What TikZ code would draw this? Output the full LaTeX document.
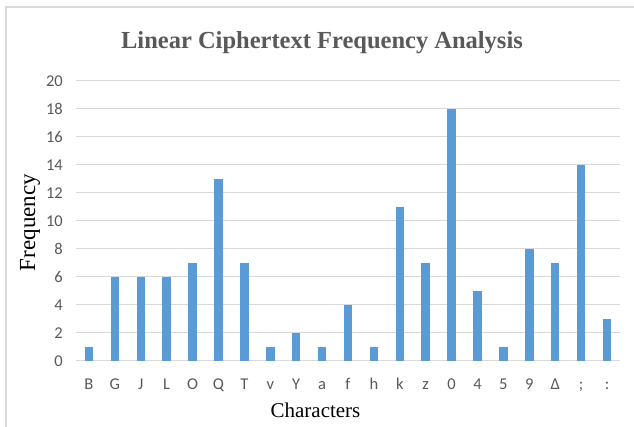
\documentclass[tikz,border=0pt]{standalone}
\usepackage{fontspec}
\newfontfamily\tickfont{Carlito}
\newfontfamily\serfont{Liberation Serif}
\definecolor{barblue}{HTML}{5B9BD5}
\definecolor{gridgray}{HTML}{D9D9D9}
\definecolor{txtgray}{HTML}{595959}
\begin{document}
\begin{tikzpicture}[x=1pt,y=-1pt,
  gridline/.style={draw=gridgray,line width=1pt},
  barbox/.style={fill=barblue,draw=none},
  ticklab/.style={inner sep=0pt,text=txtgray,font=\tickfont\fontsize{16.5}{19}\selectfont},
  axlab/.style={inner sep=0pt,text=black,font=\serfont\fontsize{21}{24}\selectfont}]
\useasboundingbox (0,0) rectangle (634,426);
\fill[white] (0,0) rectangle (634,426);
% frame
\draw[gridgray,line width=1.3pt] (6,430) -- (6,7) -- (640,7);
% title
\node[anchor=base,inner sep=0pt,text=txtgray,font=\serfont\bfseries\fontsize{24.5}{28}\selectfont] (title) at (322,48.3) {Linear Ciphertext Frequency Analysis};
% grid + y labels
\foreach \v in {0,2,...,20}{
  \pgfmathsetmacro{\yy}{360.7-14*\v}
  \draw[gridline] (76,\yy) -- (620,\yy);
  \node[ticklab,anchor=east] (y\v) at (63,\yy) {\v};
}
% bars
\foreach \lab/\val [count=\i from 0] in {B/1,G/6,J/6,L/6,O/7,Q/13,T/7,v/1,Y/2,a/1,f/4,h/1,k/11,z/7,0/18,4/5,5/1,9/8,Δ/7,;/14,:/3}{
  \pgfmathsetmacro{\cx}{76+25.9*(\i+0.5)}
  \pgfmathsetmacro{\top}{360.7-14*\val}
  \fill[barbox] (\cx-4.25,360.7) rectangle (\cx+4.25,\top);
  \node[ticklab,anchor=base] (c\i) at (\cx,389.3) {\lab};
}
% axis titles
\node[axlab,rotate=90,font=\serfont\fontsize{23}{26}\selectfont] (ylab) at (30,222.5) {Frequency};
\node[axlab] (xlab) at (315.5,410) {Characters};
\end{tikzpicture}
\end{document}
